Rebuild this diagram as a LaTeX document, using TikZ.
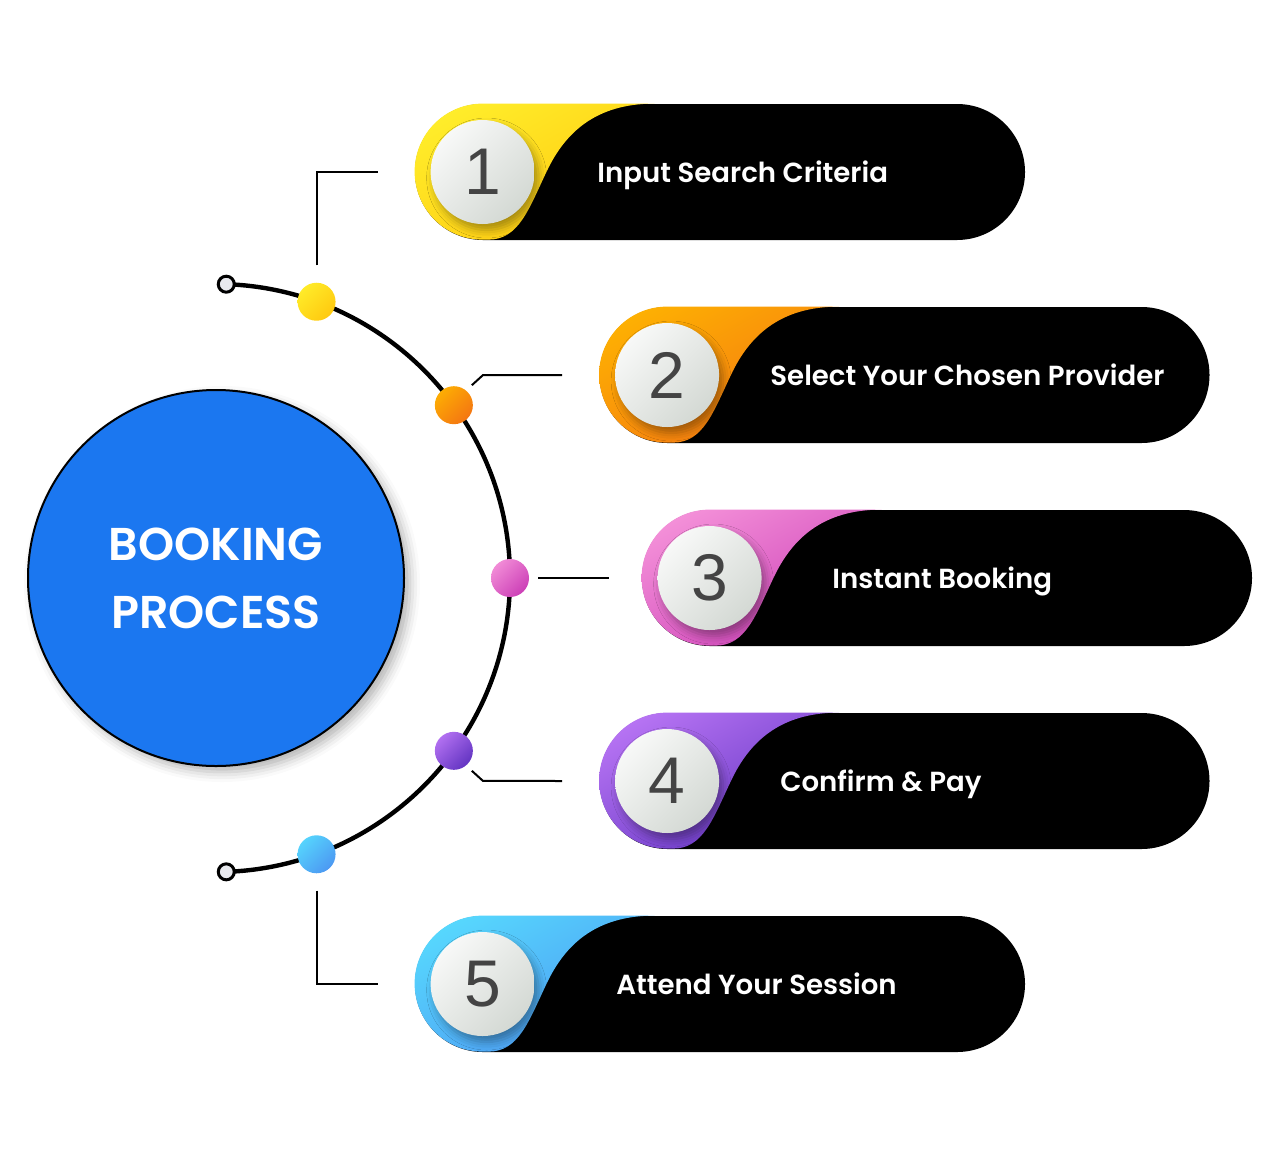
\documentclass[tikz,border=0pt]{standalone}
\usepackage{fontspec}
\setmainfont{Poppins}
\newfontfamily\labelfont{Poppins SemiBold}
\newfontfamily\hubfont{Poppins SemiBold}
\newfontfamily\digitfont{Liberation Sans}
\usetikzlibrary{positioning,shadings,shadows.blur}
\definecolor{ink}{HTML}{000000}
\definecolor{hubblue}{HTML}{1B77F0}
\definecolor{capgrey}{HTML}{E8E9EE}
\definecolor{digitgrey}{HTML}{444444}
\definecolor{ballgrey}{HTML}{CCD2CC}
\definecolor{step1hi}{HTML}{FFF22E}\definecolor{step1lo}{HTML}{FFC20A}
\definecolor{step2hi}{HTML}{FFB800}\definecolor{step2lo}{HTML}{F26A15}
\definecolor{step3hi}{HTML}{F99BDD}\definecolor{step3lo}{HTML}{C42FB0}
\definecolor{step4hi}{HTML}{C27CFA}\definecolor{step4lo}{HTML}{5228B8}
\definecolor{step5hi}{HTML}{58E0FF}\definecolor{step5lo}{HTML}{4A8CF0}
\colorlet{step1mid}{step1hi!50!step1lo}
\colorlet{step2mid}{step2hi!50!step2lo}
\colorlet{step3mid}{step3hi!50!step3lo}
\colorlet{step4mid}{step4hi!50!step4lo}
\colorlet{step5mid}{step5hi!50!step5lo}

\begin{document}
\begin{tikzpicture}[x=.5pt,y=-.5pt,
    hub/.style={circle,draw=ink,line width=1pt,fill=hubblue,minimum size=188pt,text=white,align=center,
      font=\hubfont\fontsize{23}{34}\selectfont,
      blur shadow={shadow xshift=3pt,shadow yshift=-3pt,shadow blur radius=5pt,shadow opacity=30}},
    rim/.style={ink,line width=2.2pt},
    link/.style={ink,line width=1pt},
    endcap/.style={circle,draw=ink,line width=1.5pt,fill=capgrey,minimum size=8pt,inner sep=0pt},
    tint/.style={upper left=#1hi,lower right=#1lo,upper right=#1mid,lower left=#1mid},
    dot/.style={circle,minimum size=19pt,inner sep=0pt,tint=#1},
    pill/.style={fill=ink,rounded corners=34pt,minimum width=305pt,minimum height=68pt,inner sep=0pt},
    numball/.style={circle,minimum size=52pt,inner sep=0pt,upper left=white,lower right=ballgrey,
      upper right=ballgrey!50!white,lower left=ballgrey!50!white,text=digitgrey,
      font=\digitfont\fontsize{33}{33}\selectfont,
      blur shadow={shadow xshift=2pt,shadow yshift=-3pt,shadow blur radius=4pt,shadow opacity=35}},
    steptext/.style={text=white,font=\labelfont\fontsize{13.8}{16}\selectfont,anchor=base west,inner sep=0pt}]
  \useasboundingbox (0,0) rectangle (1272,1157);
  \node[hub] (hub) at (216,578) {BOOKING\\PROCESS};
  \draw[rim] (hub.center) ++(-88:294) arc[start angle=-88,end angle=88,radius=294];
  \path (hub.center) ++(-88:294) node[endcap] (endA) {};
  \path (hub.center) ++(88:294) node[endcap] (endB) {};
  \foreach \i/\a in {1/-70,2/-36,3/0,4/36,5/70}
    \path (hub.center) ++(\a:294) node[dot=step\i] (d\i) {};
  % the five steps
  \foreach \i/\x/\y/\tx/\txt in {1/720/172/597/Input Search Criteria,2/904.5/375/770/Select Your Chosen Provider,
      3/947/578/832/Instant Booking,4/904.5/781/780/Confirm \& Pay,5/720/984/616/Attend Your Session}{
    \node[pill] (p\i) at (\x,\y) {};
    \begin{scope}[shift={(p\i.north west)}]
      \clip[rounded corners=34pt] (0,0) rectangle (610,136);
      \shade[tint=step\i] (0,0) -- (240,0) .. controls (180,0) and (150,30) .. (132,68)
        .. controls (114,106) and (104,136) .. (74,136) -- (0,136) -- cycle;
    \end{scope}
    \node[numball] (n\i) at ([xshift=34pt]p\i.west) {\i};
    \node[steptext] (t\i) at (\tx,{\y+10}) {\txt};
  }
  \draw[link] ([yshift=8.5pt]d1.north) |- ([xshift=-18.5pt]p1.west);
  \draw[link] ([shift={(9pt,10pt)}]d2.center) -- ++(11,-10) -- ([xshift=-18.5pt]p2.west);
  \draw[link] ([xshift=4.5pt]d3.east) -- ([xshift=-16.5pt]p3.west);
  \draw[link] ([shift={(9pt,-10pt)}]d4.center) -- ++(11,10) -- ([xshift=-18.5pt]p4.west);
  \draw[link] ([yshift=-8.5pt]d5.south) |- ([xshift=-18.5pt]p5.west);
\end{tikzpicture}
\end{document}
